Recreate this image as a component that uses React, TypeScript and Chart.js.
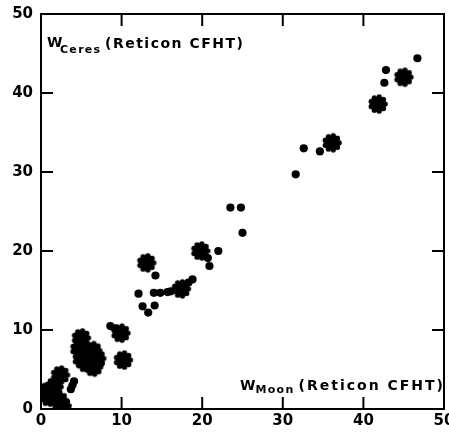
import React, { useEffect, useRef } from "react";
import { Chart, registerables } from "chart.js";

Chart.register(...registerables);

// Filled dots (W_Moon, W_Ceres)
const dotX = [46.7, 42.8, 42.6, 34.6, 32.6, 31.6, 23.5, 24.8, 25.0, 22.0, 20.7, 20.9, 14.2, 18.8, 18.3, 12.1, 14.0, 14.8, 15.7, 16.1, 12.6, 14.1, 13.3, 8.6, 9.2, 7.4, 3.9, 4.1, 3.7, 6.0, 7.2];
const dotY = [44.4, 42.9, 41.3, 32.6, 33.0, 29.7, 25.5, 25.5, 22.3, 20.0, 19.1, 18.1, 16.9, 16.4, 16.0, 14.6, 14.7, 14.7, 14.8, 14.9, 13.0, 13.1, 12.2, 10.5, 10.2, 5.8, 3.0, 3.5, 2.5, 6.0, 6.8];

// Star (cog) markers
const starX = [45.0, 41.8, 36.1, 19.8, 13.1, 17.4, 9.9, 10.2, 5.0, 4.8, 5.1, 6.4, 6.9, 6.5, 5.6, 2.4, 0.8, 1.6, 2.2, 2.6, 1.0];
const starY = [42.0, 38.6, 33.7, 20.0, 18.5, 15.2, 9.6, 6.2, 9.0, 7.6, 6.3, 7.4, 6.4, 5.3, 5.8, 4.3, 2.2, 2.8, 1.1, 0.4, 1.5];

const axisMin = 0;
const axisMax = 50;
const tickStep = 10;
const tickValues = [0, 10, 20, 30, 40, 50];
const tickLabels = ["0", "10", "20", "30", "40", "50"];
const innerTicks = [10, 20, 30, 40];

function makeCog(): HTMLCanvasElement {
  const c = document.createElement("canvas");
  c.width = 22;
  c.height = 22;
  const g = c.getContext("2d")!;
  g.fillStyle = "#000";
  g.beginPath();
  g.arc(11, 11, 7, 0, Math.PI * 2);
  g.fill();
  const n = 9;
  for (let i = 0; i < n; i++) {
    const a = (i / n) * Math.PI * 2;
    g.beginPath();
    g.arc(11 + Math.cos(a) * 7.1, 11 + Math.sin(a) * 7.1, 2.7, 0, Math.PI * 2);
    g.fill();
  }
  return c;
}

const FONT = "'DejaVu Sans', sans-serif";

const framePlugin = {
  id: "frameTicks",
  afterDraw(chart: any) {
    const { ctx, chartArea } = chart;
    const xs = chart.scales.x;
    const ys = chart.scales.y;
    const { left, right, top, bottom } = chartArea;
    ctx.save();
    ctx.strokeStyle = "#000";
    ctx.lineWidth = 2;
    ctx.strokeRect(left, top, right - left, bottom - top);
    const tl = 12;
    ctx.beginPath();
    for (const v of innerTicks) {
      const px = xs.getPixelForValue(v);
      ctx.moveTo(px, bottom);
      ctx.lineTo(px, bottom - tl);
      ctx.moveTo(px, top);
      ctx.lineTo(px, top + tl);
      const py = ys.getPixelForValue(v);
      ctx.moveTo(left, py);
      ctx.lineTo(left + tl, py);
      ctx.moveTo(right, py);
      ctx.lineTo(right - tl, py);
    }
    ctx.stroke();

    ctx.fillStyle = "#000";
    // tick labels
    ctx.font = `bold 15px ${FONT}`;
    ctx.textBaseline = "middle";
    ctx.textAlign = "right";
    tickValues.forEach((v, i) => {
      ctx.fillText(tickLabels[i], left - 8, ys.getPixelForValue(v));
    });
    ctx.textAlign = "center";
    tickValues.forEach((v, i) => {
      ctx.fillText(tickLabels[i], xs.getPixelForValue(v), bottom + 12);
    });

    ctx.textBaseline = "alphabetic";
    ctx.textAlign = "left";
    // top-left label
    (ctx as any).letterSpacing = "0px";
    ctx.font = `bold 14px ${FONT}`;
    ctx.fillText("W", left + 6, top + 33);
    ctx.font = `bold 11px ${FONT}`;
    (ctx as any).letterSpacing = "1.3px";
    ctx.fillText("Ceres", left + 19, top + 39);
    ctx.font = `bold 14px ${FONT}`;
    (ctx as any).letterSpacing = "1.5px";
    ctx.fillText("(Reticon CFHT)", left + 64, top + 34);

    // bottom-right label
    ctx.textAlign = "right";
    (ctx as any).letterSpacing = "2px";
    ctx.fillText("(Reticon CFHT)", right + 1, bottom - 19);
    const pw = ctx.measureText("(Reticon CFHT)").width;
    ctx.font = `bold 11px ${FONT}`;
    (ctx as any).letterSpacing = "1.3px";
    const mx = right + 1 - pw - 4;
    ctx.fillText("Moon", mx, bottom - 16);
    const mw = ctx.measureText("Moon").width;
    ctx.font = `bold 14px ${FONT}`;
    (ctx as any).letterSpacing = "0px";
    ctx.fillText("W", mx - mw, bottom - 19);
    ctx.restore();
  },
};

export default function App() {
  const ref = useRef<HTMLCanvasElement>(null);
  useEffect(() => {
    document.body.style.margin = "0";
    const cog = makeCog();
    const chart = new Chart(ref.current!, {
      type: "scatter",
      data: {
        datasets: [
          {
            data: dotX.map((x, i) => ({ x, y: dotY[i] })),
            pointStyle: "circle",
            pointRadius: 4.1,
            backgroundColor: "#000",
            borderColor: "#000",
            borderWidth: 0,
          },
          {
            data: starX.map((x, i) => ({ x, y: starY[i] })),
            pointStyle: cog,
            pointRadius: 10,
            backgroundColor: "#000",
            borderColor: "#000",
          },
        ],
      },
      options: {
        animation: false,
        responsive: false,
        events: [],
        layout: { autoPadding: false, padding: { top: 14, right: 5, left: 0, bottom: 0 } },
        plugins: { legend: { display: false }, tooltip: { enabled: false } },
        scales: {
          x: {
            type: "linear",
            min: axisMin,
            max: axisMax,
            grid: { display: false, drawTicks: false },
            border: { display: false },
            ticks: { stepSize: tickStep, display: false },
            afterFit(s: any) {
              s.height = 24;
            },
          },
          y: {
            type: "linear",
            min: axisMin,
            max: axisMax,
            grid: { display: false, drawTicks: false },
            border: { display: false },
            ticks: { stepSize: tickStep, display: false },
            afterFit(s: any) {
              s.width = 41;
            },
          },
        },
      },
      plugins: [framePlugin],
    });
    return () => chart.destroy();
  }, []);
  return (
    <div style={{ width: 449, height: 433 }}>
      <canvas ref={ref} width={449} height={433} style={{ width: 449, height: 433, display: "block" }} />
    </div>
  );
}
